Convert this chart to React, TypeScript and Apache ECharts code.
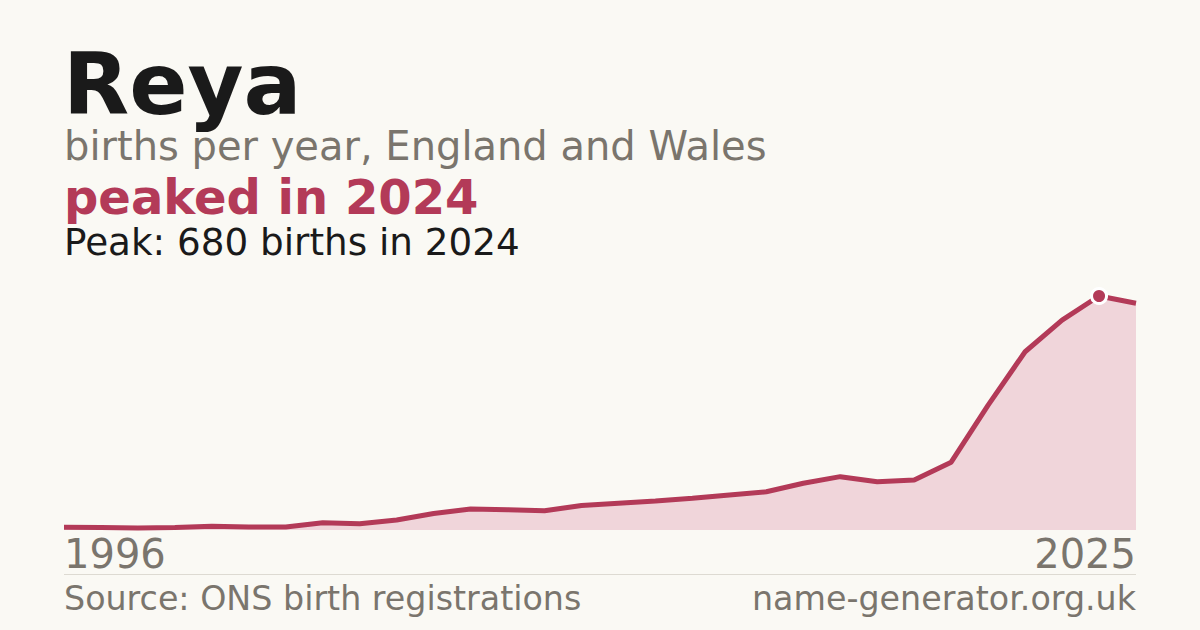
import React, { useEffect, useRef } from 'react'
import * as echarts from 'echarts'

const years = [
    '1996', '1997', '1998', '1999', '2000', '2001', '2002', '2003', '2004', '2005',
    '2006', '2007', '2008', '2009', '2010', '2011', '2012', '2013', '2014', '2015',
    '2016', '2017', '2018', '2019', '2020', '2021', '2022', '2023', '2024', '2025',
]
const births = [
    8, 7, 6, 7, 11, 9, 9, 21, 18, 29,
    48, 61, 59, 56, 71, 78, 84, 92, 102, 111,
    136, 155, 140, 145, 197, 363, 518, 610, 680, 659,
]
const nameText = 'Reya'
const subtitleText = 'births per year, England and Wales'
const headlineText = 'peaked in 2024'
const peakText = 'Peak: 680 births in 2024'
const sourceText = 'Source: ONS birth registrations'
const siteText = 'name-generator.org.uk'

const CRIMSON = '#b33a58'
const GREY = '#7a756d'
const FONT = '"DejaVu Sans", sans-serif'

const App: React.FC = () => {
    const chartRef = useRef<HTMLDivElement>(null)

    useEffect(() => {
        document.body.style.margin = '0'
        const chart = echarts.init(chartRef.current, null, { renderer: 'svg' })

        const peakValue = Math.max(...births)
        const seriesData = births.map((v) =>
            v === peakValue
                ? {
                      value: v,
                      symbol: 'circle',
                      symbolSize: 15,
                      itemStyle: { color: CRIMSON, borderColor: '#ffffff', borderWidth: 3 },
                  }
                : { value: v, symbol: 'none' }
        )
        const last = years.length - 1

        const option = {
            animation: false,
            backgroundColor: '#faf9f4',
            grid: { left: 64, right: 64, top: 296, bottom: 100 },
            xAxis: {
                type: 'category',
                data: years,
                boundaryGap: false,
                axisLine: { show: false },
                axisTick: { show: false },
                splitLine: { show: false },
                axisLabel: {
                    interval: (i: number) => i === 0 || i === last,
                    margin: 4,
                    fontSize: 40,
                    fontFamily: FONT,
                    color: GREY,
                    alignMinLabel: 'left',
                    alignMaxLabel: 'right',
                },
            },
            yAxis: {
                type: 'value',
                min: 0,
                max: peakValue,
                show: false,
                splitLine: { show: false },
            },
            series: [
                {
                    type: 'line',
                    data: seriesData,
                    showSymbol: true,
                    lineStyle: { color: CRIMSON, width: 5 },
                    itemStyle: { color: CRIMSON },
                    areaStyle: { color: '#f0d5da', opacity: 1 },
                    z: 3,
                },
            ],
            graphic: [
                {
                    type: 'text',
                    x: 63,
                    y: 84,
                    style: {
                        text: nameText,
                        fontSize: 86,
                        lineHeight: 64,
                        fontWeight: 'bold',
                        fontFamily: FONT,
                        fill: '#1a1a1a',
                        verticalAlign: 'middle',
                    },
                },
                {
                    type: 'text',
                    x: 64,
                    y: 146,
                    style: {
                        text: subtitleText,
                        fontSize: 40,
                        lineHeight: 32,
                        fontFamily: FONT,
                        fill: GREY,
                        verticalAlign: 'middle',
                    },
                },
                {
                    type: 'text',
                    x: 64,
                    y: 197,
                    style: {
                        text: headlineText,
                        fontSize: 48,
                        lineHeight: 36,
                        fontWeight: 'bold',
                        fontFamily: FONT,
                        fill: CRIMSON,
                        verticalAlign: 'middle',
                    },
                },
                {
                    type: 'text',
                    x: 64,
                    y: 242,
                    style: {
                        text: peakText,
                        fontSize: 37.3,
                        lineHeight: 30,
                        fontFamily: FONT,
                        fill: '#1a1a1a',
                        verticalAlign: 'middle',
                    },
                },
                {
                    type: 'line',
                    shape: { x1: 64, y1: 574.5, x2: 1136, y2: 574.5 },
                    style: { stroke: '#dddad2', lineWidth: 1 },
                },
                {
                    type: 'text',
                    x: 64,
                    y: 598,
                    style: {
                        text: sourceText,
                        fontSize: 33.3,
                        fontFamily: FONT,
                        fill: GREY,
                        verticalAlign: 'middle',
                    },
                },
                {
                    type: 'text',
                    x: 1136,
                    y: 598,
                    style: {
                        text: siteText,
                        fontSize: 33.3,
                        fontFamily: FONT,
                        fill: GREY,
                        align: 'right',
                        verticalAlign: 'middle',
                    },
                },
            ],
        }

        chart.setOption(option)

        return () => {
            chart.dispose()
        }
    }, [])

    return <div ref={chartRef} style={{ width: '1200px', height: '630px' }} />
}

export default App
